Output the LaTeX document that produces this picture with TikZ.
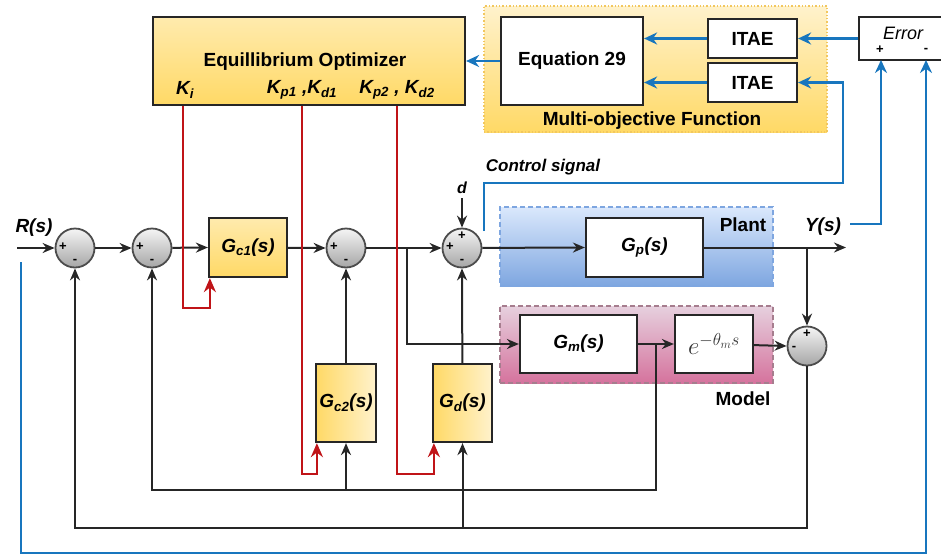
\documentclass[tikz,border=0pt]{standalone}
\usepackage{fontspec}
\setmainfont{Liberation Sans}
\usetikzlibrary{arrows.meta,calc,positioning}
\definecolor{lblue}{RGB}{24,118,190}
\definecolor{kred}{RGB}{192,20,24}
\definecolor{ylo}{HTML}{FFF2CC}
\definecolor{yhi}{HTML}{FFD966}
\definecolor{plo}{HTML}{DAE8FC}
\definecolor{phi}{HTML}{7EA6E0}
\definecolor{mlo}{HTML}{E6D0DE}
\definecolor{mhi}{HTML}{D5739D}
\tikzset{
  sig/.style={line width=2pt,black!85,-{Stealth[length=12pt,width=10pt]}},
  bline/.style={line width=2.6pt,lblue},
  bsig/.style={bline,-{Stealth[length=13pt,width=12pt]}},
  ksig/.style={line width=2.6pt,kred,-{Stealth[length=14pt,width=12pt]}},
  sumc/.style={circle,draw=black!70,line width=1.8pt,minimum size=39pt,inner sep=0pt,top color=black!4,bottom color=black!35},
  pm/.style={font=\fontsize{13}{13}\selectfont\bfseries,inner sep=0pt},
  wbox/.style={draw=black!85,line width=2.2pt,fill=white,inner sep=0pt,font=\fontsize{19}{22}\selectfont\bfseries\itshape},
  ybox/.style={wbox,fill=none,top color=ylo!70!yhi,bottom color=yhi},
  yboxh/.style={wbox,fill=none,left color=yhi,right color=ylo},
  lbl/.style={font=\fontsize{19}{22}\selectfont\bfseries\itshape,inner sep=0pt},
  tag/.style={font=\fontsize{19}{22}\selectfont\bfseries,inner sep=0pt}
}
\begin{document}
\begin{tikzpicture}[x=1pt,y=-1pt]
\useasboundingbox (0,0) rectangle (941,557);
% shaded regions
\node[draw=yhi!80!brown,line width=1.4pt,dotted,top color=ylo,bottom color=yhi,minimum width=343,minimum height=126] (mof) at (655.5,69) {};
\node[draw=phi,line width=1.4pt,dash pattern=on 5pt off 3pt,top color=plo,bottom color=phi,minimum width=273,minimum height=79] (plant) at (636.5,246.5) {};
\node[draw=mhi!60!black!70,line width=1.4pt,dash pattern=on 5pt off 3pt,top color=mlo,bottom color=mhi,minimum width=273,minimum height=77] (model) at (636.5,344.5) {};
\node[tag] at (652,121) {Multi-objective Function};
\node[tag] at (743,225) {Plant};
\node[tag] at (743,399) {Model};
% blocks
\node[sumc] (sA) at (75,248) {};
\node[sumc] (sB) at (152,248) {};
\node[sumc] (sC) at (346,248) {};
\node[sumc] (sD) at (462,248) {};
\node[sumc] (sE) at (807,346) {};
\node[ybox,minimum width=78,minimum height=59] (gc1) at (248,247.5) {G\textsubscript{c1}(s)};
\node[yboxh,minimum width=60,minimum height=78] (gc2) at (346,403) {G\textsubscript{c2}(s)};
\node[yboxh,minimum width=59,minimum height=78] (gd) at (462.5,403) {G\textsubscript{d}(s)};
\node[wbox,minimum width=117,minimum height=59] (gp) at (644.5,247.5) {G\textsubscript{p}(s)};
\node[wbox,minimum width=117,minimum height=58] (gm) at (578.5,344) {G\textsubscript{m}(s)};
\node[wbox,minimum width=78,minimum height=58,font=\fontsize{26}{28}\selectfont,text=black!80] (ed) at (714,344) {$e^{-\theta_m s}$};
\node[ybox,minimum width=312,minimum height=88] (eo) at (309,61) {};
\node[tag] at (305,62) {Equillibrium Optimizer};
\node[lbl] (ki) at (185,90) {K\textsubscript{i}};
\node[lbl] (kpa) at (302,90) {K\textsubscript{p1} ,K\textsubscript{d1}};
\node[lbl] (kpb) at (397,90) {K\textsubscript{p2} , K\textsubscript{d2}};
\node[wbox,minimum width=142,minimum height=88,font=\fontsize{19}{22}\selectfont\bfseries] (eq) at (572,61) {Equation 29};
\node[wbox,minimum width=89,minimum height=39,font=\fontsize{19}{22}\selectfont\bfseries] (itA) at (752.5,38.5) {ITAE};
\node[wbox,minimum width=89,minimum height=39,font=\fontsize{19}{22}\selectfont\bfseries] (itB) at (752.5,82.5) {ITAE};
\node[draw=black!85,line width=2.2pt,fill=white,minimum width=86,minimum height=43] (err) at (902,38.5) {};
\node[font=\fontsize{18}{20}\selectfont\itshape] at (903,33) {Error};
\node[pm] at (880,50) {+};
\node[pm] at (926,50) {-};
\foreach \s in {sA,sB,sC,sD} \node[pm] at ($(\s)+(-12,-1)$) {+};
\foreach \s in {sA,sB,sC,sD} \node[pm] at ($(\s)+(0,13)$) {-};
\node[pm] at ($(sD)+(0,-12)$) {+};
\node[pm] at ($(sE)+(0,-12)$) {+};
\node[pm] at ($(sE)+(-13,2)$) {-};
% labels and free ends
\node[lbl] (rs) at (34,228) {R(s)};
\node[lbl] (ys) at (823,227) {Y(s)};
\node[lbl,font=\fontsize{16}{18}\selectfont\bfseries\itshape] (dd) at (462,188) {d};
\node[lbl,font=\fontsize{17}{20}\selectfont\bfseries\itshape] (cs) at (543,167) {Control signal};
\coordinate (rin) at (17,248);
\coordinate (yout) at (846,247.5);
\coordinate (bm) at (407,248);
\coordinate (by) at (807,247.5);
\coordinate (bg) at (656,344);
\coordinate (l1) at (656,490);
\coordinate (l2) at (807,528);
\coordinate (csa) at (484,231);
\coordinate (ysb) at (850,224);
\coordinate (rb) at (21,262);
\coordinate (errp) at (881,60);
\coordinate (errm) at (926,60);
% signal path
\draw[sig] (rin) -- (sA.west);
\draw[sig] (sA) -- (sB.west);
\draw[sig] (sB) -- (gc1.west);
\draw[sig] (gc1) -- (sC.west);
\draw[sig] (sC) -- (sD.west);
\draw[sig] (sD) -- (gp.west);
\draw[sig] (gp) -- (yout);
\draw[sig] (bm) |- (gm.west);
\draw[sig] (gm) -- (ed.west);
\draw[sig] (ed) -- (sE.west);
\draw[sig] (by) -- (sE.north);
\draw[sig] (dd.south) ++(0,4) -- (sD.north);
% feedback loops
\draw[sig] (bg) -- (l1) -| (sB.south);
\draw[sig] (gc2 |- l1) -- (gc2.south);
\draw[sig] (gc2) -- (sC.south);
\draw[sig] (sE) -- (l2) -| (sA.south);
\draw[sig] (gd |- l2) -- (gd.south);
\draw[sig] (gd) -- (sD.south);
% gains
\draw[ksig] (ki |- eo.south) ++(-2,0) -- ++(0,202) -| ($(gc1.south west)+(2,0)$);
\draw[ksig] (kpa |- eo.south) -- ++(0,368) -| ($(gc2.south west)+(2,0)$);
\draw[ksig] (kpb |- eo.south) -- ++(0,368) -| ($(gd.south west)+(2,0)$);
% objective
\draw[bsig] (eq) -- (eo.east);
\draw[bsig] (itA.west) -- (itA.west -| eq.east);
\draw[bsig] (itB.west) -- (itB.west -| eq.east);
\draw[bsig] (err.west |- itA) -- (itA.east);
\draw[bsig] (csa) |- (843,183) |- (itB.east);
\draw[bsig] (ysb) -| (errp);
\draw[bsig] (rb) -- (21,553) -| (errm);
\end{tikzpicture}
\end{document}
